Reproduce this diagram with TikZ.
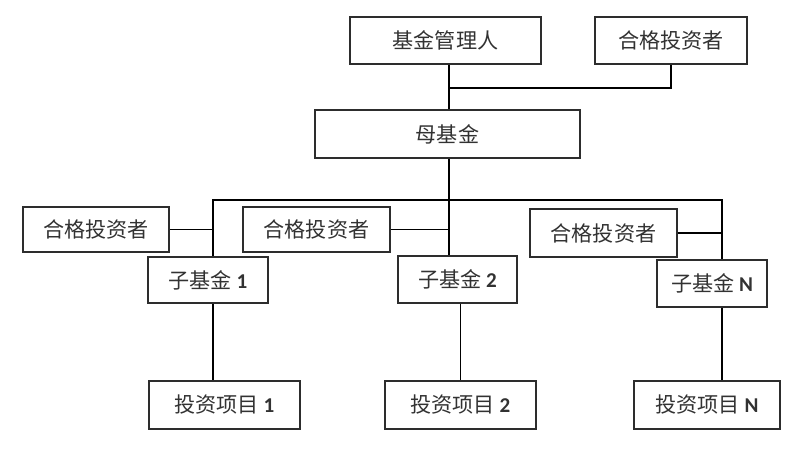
\documentclass[tikz,border=0pt]{standalone}
\usepackage{fontspec}
\usepackage{tikz}
\usetikzlibrary{positioning}
\newfontfamily\cjk{Noto Sans CJK SC}
\newfontfamily\numfont{Carlito}
\definecolor{box_line}{RGB}{45,45,45}
\definecolor{box_text}{RGB}{50,50,50}
\newcommand{\num}[1]{{\numfont\bfseries #1}}
\tikzset{
  box/.style={draw=box_line, line width=1.1pt, inner sep=0pt, anchor=center,
    text=box_text, font=\cjk\fontsize{15}{18}\selectfont},
  link/.style={draw=black, line width=0.9pt}
}

\begin{document}
\begin{tikzpicture}[x=0.025cm, y=-0.025cm]
 \useasboundingbox (0,0) rectangle (800,451);

 % top row
 \node[box, minimum width=4.775cm, minimum height=1.175cm] (mgr) at (445.5,40.5) {基金管理人};
 \node[box, minimum width=3.8cm, minimum height=1.175cm] (invT) at (671,40.5) {合格投资者};
 \node[box, minimum width=6.625cm, minimum height=1.2cm] (mother) at (447.5,134) {母基金};

 % investors beside the sub funds
 \node[box, minimum width=3.65cm, minimum height=1.125cm] (invA) at (96,229.5) {合格投资者};
 \node[box, minimum width=3.675cm, minimum height=1.125cm] (invB) at (316.5,229.5) {合格投资者};
 \node[box, minimum width=3.675cm, minimum height=1.2cm] (invC) at (603.5,233) {合格投资者};

 % sub funds
 \node[box, minimum width=3cm, minimum height=1.15cm] (sub1) at (208,280) {子基金 \num{1}};
 \node[box, minimum width=2.975cm, minimum height=1.175cm] (sub2) at (457.5,279.5) {子基金 \num{2}};
 \node[box, minimum width=2.75cm, minimum height=1.175cm] (subN) at (712,283.5) {子基金 \num{N}};

 % projects
 \node[box, minimum width=3.775cm, minimum height=1.2cm] (proj1) at (224.5,405) {投资项目 \num{1}};
 \node[box, minimum width=3.775cm, minimum height=1.2cm] (proj2) at (460.5,405) {投资项目 \num{2}};
 \node[box, minimum width=3.65cm, minimum height=1.2cm] (projN) at (707,405) {投资项目 \num{N}};

 \coordinate (jtop) at (449,88);
 \coordinate (b1) at (213,200);
 \coordinate (b2) at (449,200);
 \coordinate (bN) at (722,200);

 \draw[link] (mgr.south -| jtop) -- (mother.north -| jtop);
 \draw[link] (jtop) -| (invT.south);
 \draw[link] (mother.south -| b2) -- (b2);
 \draw[link] (b1 |- sub1.north) -- (b1) -- (bN) -- (bN |- subN.north);
 \draw[link] (b2) -- (b2 |- sub2.north);

 \draw[link] (invA.east) -- (invA.east -| b1);
 \draw[link] (invB.east) -- (invB.east -| b2);
 \draw[link] (invC.east) -- (invC.east -| bN);

 \draw[link] (sub1.south -| b1) -- (proj1.north -| b1);
 \draw[link] (sub2.south -| proj2.north) -- (proj2.north);
 \draw[link] (subN.south -| bN) -- (projN.north -| bN);
\end{tikzpicture}
\end{document}
